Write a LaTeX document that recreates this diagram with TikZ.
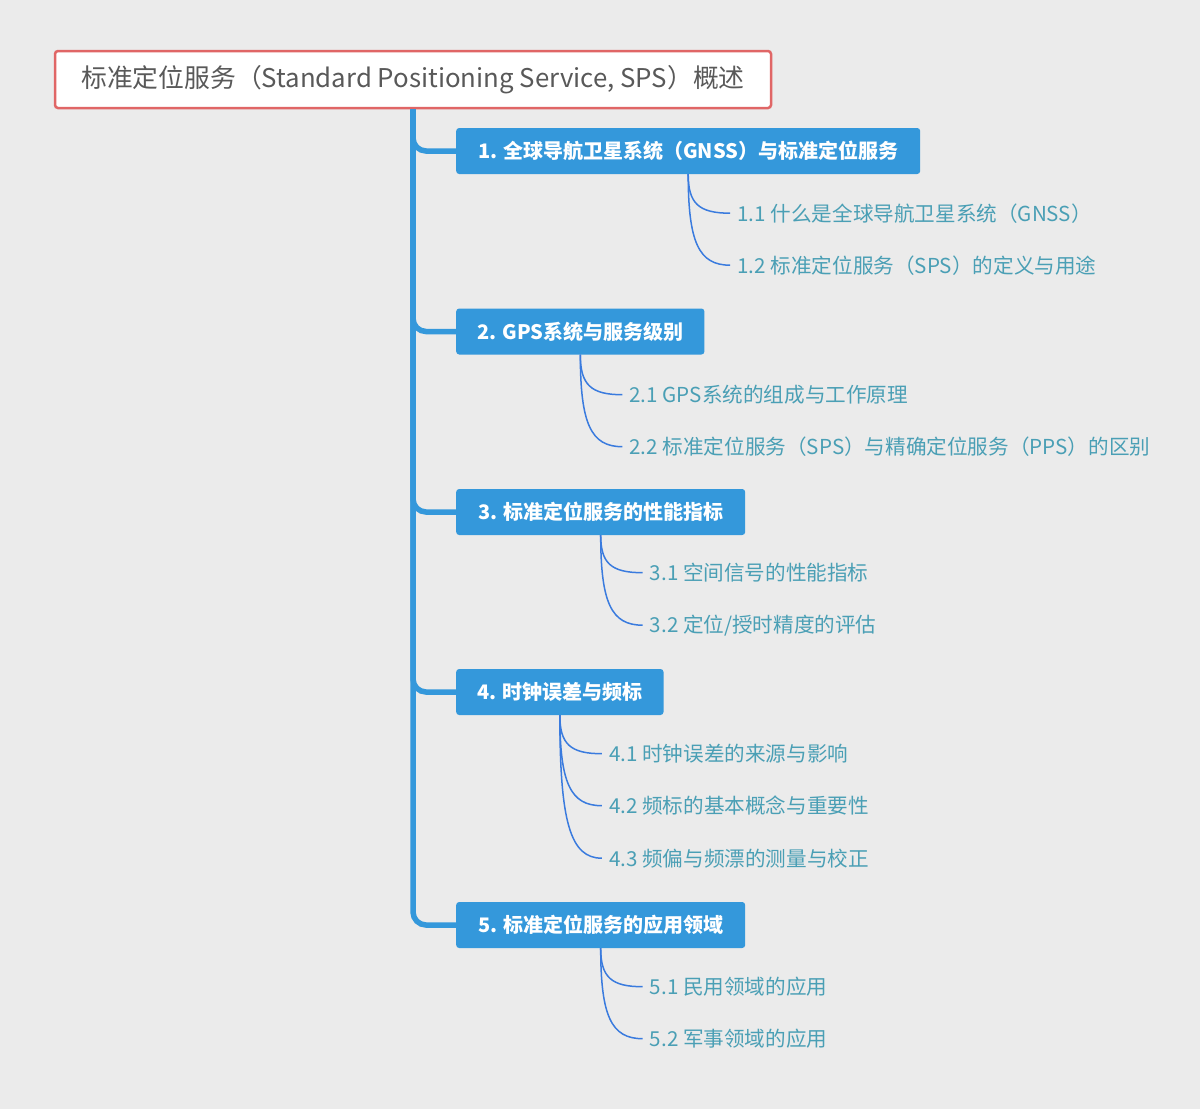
\documentclass[tikz,border=0pt]{standalone}
\usepackage{fontspec}
\setmainfont{Noto Sans CJK SC}
\usepackage{xcolor}
\usepackage{tikz}
\usetikzlibrary{calc}
\definecolor{bg}{HTML}{EBEBEB}
\definecolor{rootred}{HTML}{E06666}
\definecolor{roottext}{HTML}{595959}
\definecolor{mainblue}{HTML}{3498DB}
\definecolor{leafline}{HTML}{3A7BDE}
\definecolor{leaftext}{HTML}{4A9FB5}
\tikzset{
  root/.style={draw=rootred, fill=white, line width=2.5pt, rounded corners=3pt,
    minimum width=716pt, minimum height=57pt, inner sep=0pt, text=roottext,
    font=\fontsize{25.8}{30}\selectfont},
  topic/.style={fill=mainblue, rounded corners=3pt, anchor=west, minimum height=46pt,
    inner xsep=21pt, inner ysep=0pt, text=white, font=\fontsize{20}{24}\selectfont\bfseries},
  leaf/.style={anchor=west, inner xsep=7pt, text=leaftext, font=\fontsize{20.6}{24}\selectfont},
  trunk/.style={draw=mainblue, line width=5.5pt, rounded corners=13pt},
  twig/.style={draw=leafline, line width=1.5pt,
    to path={.. controls ($(\tikztostart)!0.75!(\tikztostart |- \tikztotarget)$)
      and ($(\tikztotarget)!0.75!(\tikztostart |- \tikztotarget)$) .. (\tikztotarget)}}
}

\begin{document}
\begin{tikzpicture}[x=1pt,y=-1pt]
  \fill[bg] (0,0) rectangle (1200,1109);
  \useasboundingbox (0,0) rectangle (1200,1109);

  \node[root] (root) at (413,79.5) {标准定位服务（Standard Positioning Service, SPS）概述};

  % main topics
  \node[topic, minimum width=464pt] (t1) at (456,151) {1. 全球导航卫星系统（GNSS）与标准定位服务};
  \node[topic, minimum width=244pt] (t2) at (456,331.5) {2. GPS系统与服务级别};
  \node[topic, minimum width=289pt] (t3) at (456,512) {3. 标准定位服务的性能指标};
  \node[topic, minimum width=207pt] (t4) at (456,692) {4. 时钟误差与频标};
  \node[topic, minimum width=289pt] (t5) at (456,925) {5. 标准定位服务的应用领域};

  \draw[trunk] (root.south) |- (t1.west);
  \draw[trunk] (root.south) |- (t2.west);
  \draw[trunk] (root.south) |- (t3.west);
  \draw[trunk] (root.south) |- (t4.west);
  \draw[trunk] (root.south) |- (t5.west);

  % subtopics
  \node[leaf] (s11) at ($(t1.south)+(42,39)$) {1.1 什么是全球导航卫星系统（GNSS）};
  \node[leaf] (s12) at ($(t1.south)+(42,91)$) {1.2 标准定位服务（SPS）的定义与用途};
  \node[leaf] (s21) at ($(t2.south)+(42,40)$) {2.1 GPS系统的组成与工作原理};
  \node[leaf] (s22) at ($(t2.south)+(42,92)$) {2.2 标准定位服务（SPS）与精确定位服务（PPS）的区别};
  \node[leaf] (s31) at ($(t3.south)+(42,37.5)$) {3.1 空间信号的性能指标};
  \node[leaf] (s32) at ($(t3.south)+(42,90)$) {3.2 定位/授时精度的评估};
  \node[leaf] (s41) at ($(t4.south)+(42,38.5)$) {4.1 时钟误差的来源与影响};
  \node[leaf] (s42) at ($(t4.south)+(42,90.5)$) {4.2 频标的基本概念与重要性};
  \node[leaf] (s43) at ($(t4.south)+(42,143)$) {4.3 频偏与频漂的测量与校正};
  \node[leaf] (s51) at ($(t5.south)+(42,38.5)$) {5.1 民用领域的应用};
  \node[leaf] (s52) at ($(t5.south)+(42,90.5)$) {5.2 军事领域的应用};

  \draw[twig] (t1.south) to (s11.west);
  \draw[twig] (t1.south) to (s12.west);
  \draw[twig] (t2.south) to (s21.west);
  \draw[twig] (t2.south) to (s22.west);
  \draw[twig] (t3.south) to (s31.west);
  \draw[twig] (t3.south) to (s32.west);
  \draw[twig] (t4.south) to (s41.west);
  \draw[twig] (t4.south) to (s42.west);
  \draw[twig] (t4.south) to (s43.west);
  \draw[twig] (t5.south) to (s51.west);
  \draw[twig] (t5.south) to (s52.west);
\end{tikzpicture}
\end{document}
